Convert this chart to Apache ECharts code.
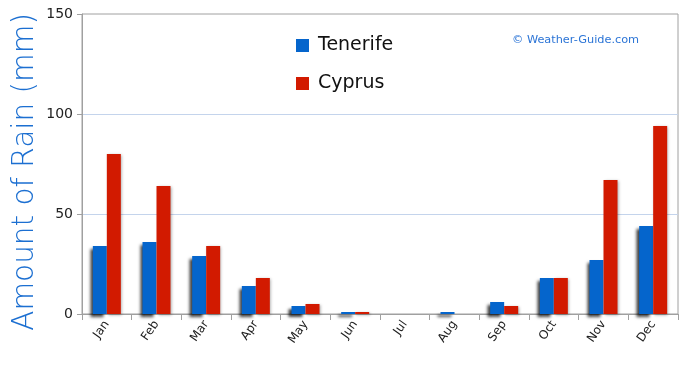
<!DOCTYPE html>
<html><head><meta charset="utf-8">
<script src="https://cdn.jsdelivr.net/npm/echarts@6/dist/echarts.min.js"></script>
<style>html,body{margin:0;padding:0;background:#fff}#c{width:690px;height:365px}</style>
</head><body><div id="c"></div>
<script>
const months = ['Jan','Feb','Mar','Apr','May','Jun','Jul','Aug','Sep','Oct','Nov','Dec'];
const tenerife = [34, 36, 29, 14, 4, 1, 0, 1, 6, 18, 27, 44];
const cyprus = [80, 64, 34, 18, 5, 1, 0, 0, 4, 18, 67, 94];
const yTicks = [0, 50, 100, 150];

const chart = echarts.init(document.getElementById('c'));
const shadow = {shadowColor:'rgba(0,0,0,0.75)', shadowBlur:3, shadowOffsetX:-3, shadowOffsetY:3};
chart.setOption({
  animation:false,
  grid:{left:82, right:12, top:14, bottom:51, show:true, borderColor:'#a0a0a0', borderWidth:1},
  legend:{orient:'vertical', left:291, top:31, icon:'rect', itemWidth:13, itemHeight:13, itemGap:19,
    textStyle:{fontSize:19, color:'#111', fontFamily:'DejaVu Sans', padding:[0,0,0,4]},
    data:['Tenerife','Cyprus']},
  xAxis:{type:'category', data:months, boundaryGap:true,
    axisLine:{lineStyle:{color:'#a0a0a0'}},
    axisTick:{show:true, length:6, lineStyle:{color:'#a0a0a0'}},
    axisLabel:{rotate:55, fontSize:12, color:'#222', margin:8, fontFamily:'DejaVu Sans'}},
  yAxis:{type:'value', min:yTicks[0], max:yTicks[yTicks.length-1], interval:50,
    axisLine:{show:true, lineStyle:{color:'#a0a0a0'}},
    axisTick:{show:true, length:5, lineStyle:{color:'#a0a0a0'}},
    axisLabel:{fontSize:14, color:'#222', margin:9, fontFamily:'DejaVu Sans'},
    splitLine:{showMaxLine:false, showMinLine:false, lineStyle:{color:'#c4d4ec'}}},
  graphic:[
    {type:'text', left:10, top:13, rotation:Math.PI/2,
      style:{text:'Amount of Rain (mm)', fontSize:29.5, fill:'#1c6fd1', fontFamily:'DejaVu Sans', fontWeight:200}},
    {type:'text', left:512, top:35, style:{text:'© Weather-Guide.com', fontSize:11.3, fill:'#2b74d6', fontFamily:'DejaVu Sans'}}
  ],
  series:[
    {name:'Tenerife', type:'bar', data:tenerife, barWidth:14, barGap:'0%',
      itemStyle:Object.assign({color:'#0565cc'}, shadow)},
    {name:'Cyprus', type:'bar', data:cyprus, barWidth:14, barGap:'0%',
      itemStyle:Object.assign({color:'#d21a00'}, {shadowColor:'rgba(0,0,0,0.35)', shadowBlur:3, shadowOffsetX:1, shadowOffsetY:1})}
  ]
});
</script></body></html>
